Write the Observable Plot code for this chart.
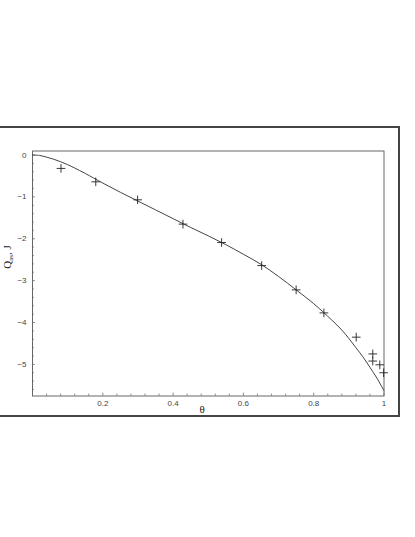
<!DOCTYPE html>
<html>
<head>
<meta charset="utf-8">
<script src="https://cdn.jsdelivr.net/npm/d3@7"></script>
<script src="https://cdn.jsdelivr.net/npm/@observablehq/plot@0.6"></script>
<style>
  html, body { margin: 0; padding: 0; background: #fff; }
  #wrap { position: relative; width: 415px; height: 537px; overflow: hidden; }
  #outer { position: absolute; left: -3px; top: 125.5px; width: 399px; height: 287px; border: 2px solid #444; box-sizing: content-box; }
  #chart { position: absolute; left: 0; top: 0; }
</style>
</head>
<body>
<div id="wrap"><div id="outer"></div><div id="chart"></div></div>
<script>
// Measured points (theta, Q)
const pointTheta = [0.081, 0.180, 0.299, 0.428, 0.538, 0.652, 0.750, 0.829, 0.921, 0.968, 0.968, 0.988, 0.999];
const pointQ     = [-0.32, -0.64, -1.07, -1.65, -2.09, -2.64, -3.22, -3.77, -4.35, -4.75, -4.92, -5.01, -5.20];

// Fitted curve (theta, Q)
const curveTheta = [0, 0.02, 0.04, 0.06, 0.08, 0.10, 0.12, 0.15, 0.20, 0.25, 0.30, 0.35, 0.40, 0.45, 0.50, 0.55, 0.60, 0.65, 0.70, 0.75, 0.80, 0.85, 0.88, 0.90, 0.92, 0.94, 0.96, 0.98, 1.00];
const curveQ     = [0, -0.01, -0.05, -0.10, -0.16, -0.23, -0.31, -0.44, -0.67, -0.89, -1.10, -1.31, -1.52, -1.73, -1.93, -2.14, -2.37, -2.61, -2.90, -3.22, -3.55, -3.93, -4.18, -4.38, -4.60, -4.82, -5.07, -5.33, -5.63];

// Tick labels
const xMajor = [0.2, 0.4, 0.6, 0.8, 1];
const xMinor = [0.04, 0.08, 0.12, 0.16, 0.24, 0.28, 0.32, 0.36, 0.44, 0.48, 0.52, 0.56, 0.64, 0.68, 0.72, 0.76, 0.84, 0.88, 0.92, 0.96];
const yMajor = [0, -1, -2, -3, -4, -5];
const yMinor = [-0.2, -0.4, -0.6, -0.8, -1.2, -1.4, -1.6, -1.8, -2.2, -2.4, -2.6, -2.8, -3.2, -3.4, -3.6, -3.8, -4.2, -4.4, -4.6, -4.8, -5.2, -5.4, -5.6];
const xTitle = "θ";

const points = pointTheta.map((t, i) => ({theta: t, q: pointQ[i]}));
const curve = curveTheta.map((t, i) => ({theta: t, q: curveQ[i]}));

const W = 415, H = 537;
const mL = 32, mR = 31.5, mT = 150.5, mB = 141.5;
const plotW = W - mL - mR, plotH = H - mT - mB;

const chart = Plot.plot({
  width: W, height: H,
  marginLeft: mL, marginRight: mR, marginTop: mT, marginBottom: mB,
  style: {fontFamily: "'Liberation Sans', Arial, sans-serif", fontSize: "8px", color: "#444", background: "transparent"},
  x: {domain: [0, 1]},
  y: {domain: [-5.755, 0.096]},
  marks: [
    Plot.tickX(xMinor, {x: d => d, insetTop: plotH - 1.8, stroke: "#666", strokeWidth: 0.8}),
    Plot.tickX(xMajor, {x: d => d, insetTop: plotH - 2.8, stroke: "#666", strokeWidth: 0.8}),
    Plot.tickY(yMinor, {y: d => d, insetRight: plotW - 1.8, stroke: "#666", strokeWidth: 0.8}),
    Plot.tickY(yMajor, {y: d => d, insetRight: plotW - 2.8, stroke: "#666", strokeWidth: 0.8}),
    Plot.axisX({ticks: xMajor, tickSize: 0, tickPadding: 4, tickFormat: d => String(d), label: null, fill: "#444"}),
    Plot.axisY({ticks: yMajor, tickSize: 0, tickPadding: 6, tickFormat: d => d === 0 ? "0" : "\u2212" + Math.abs(d), label: null, fill: "#444"}),
    Plot.frame({stroke: "#666", strokeWidth: 1}),
    Plot.line(curve, {x: "theta", y: "q", stroke: "#444", strokeWidth: 1, curve: "catmull-rom"}),
    Plot.dot(points, {x: "theta", y: "q", symbol: "plus", r: 2.9, stroke: "#222", strokeWidth: 0.9}),
    Plot.text([xTitle], {text: d => d, frameAnchor: "bottom", dx: -6, dy: 13.7, lineAnchor: "middle",
      fontFamily: "'Liberation Serif', 'Times New Roman', serif", fontSize: 11, fill: "#222"})
  ]
});
document.getElementById("chart").appendChild(chart);

// Y-axis title with subscript
const svg = d3.select(chart);
const yt = svg.append("text")
  .attr("transform", "translate(10.8,257) rotate(-90)")
  .attr("text-anchor", "middle")
  .attr("font-family", "'Liberation Serif', 'Times New Roman', serif")
  .attr("font-size", 11)
  .attr("fill", "#222");
yt.append("tspan").text("Q");
yt.append("tspan").attr("font-size", 7).attr("dy", 2).text("as");
yt.append("tspan").attr("dy", -2).text(", J");
</script>
</body>
</html>
